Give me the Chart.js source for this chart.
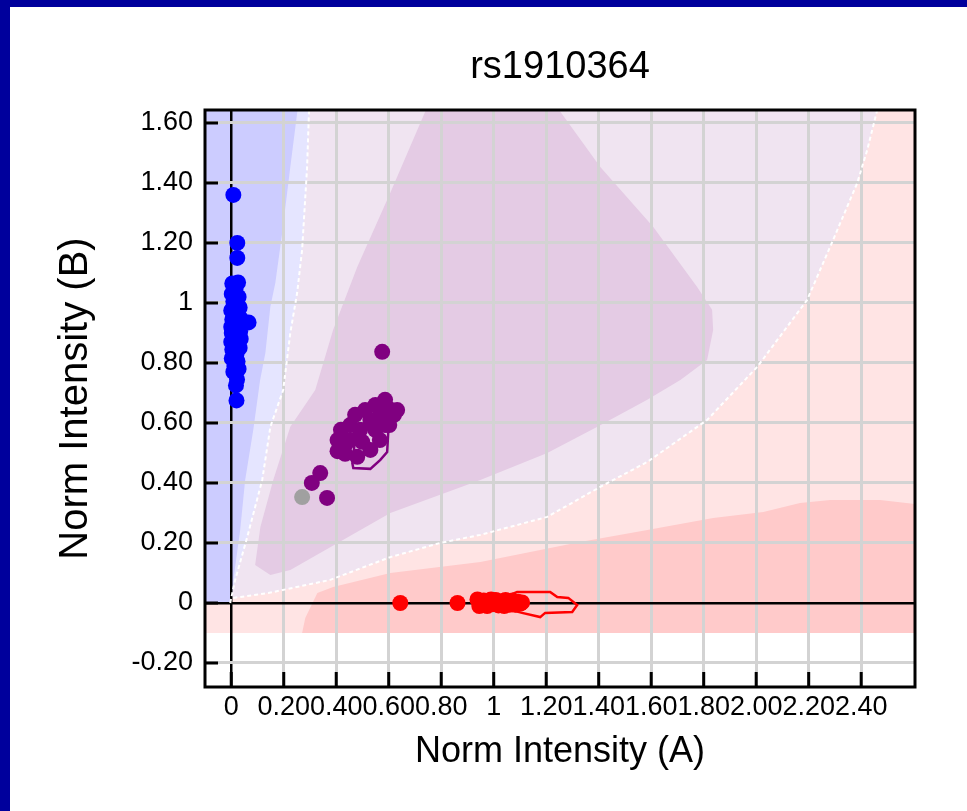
<!DOCTYPE html>
<html>
<head>
<meta charset="utf-8">
<script src="https://cdn.jsdelivr.net/npm/chart.js@4.4.1/dist/chart.umd.min.js"></script>
<style>
  html, body { margin: 0; padding: 0; background: #fff; }
  #wrap { position: relative; width: 967px; height: 811px; }
  #edgeTop { position: absolute; left: 0; top: 0; width: 967px; height: 7px; background: #00009c; }
  #edgeLeft { position: absolute; left: 0; top: 0; width: 10px; height: 811px; background: #00009c; }
</style>
</head>
<body>
<div id="wrap">
  <canvas id="plot" width="967" height="811"></canvas>
  <div id="edgeTop"></div>
  <div id="edgeLeft"></div>
</div>
<script>
const xTicks = [0, 0.2, 0.4, 0.6, 0.8, 1, 1.2, 1.4, 1.6, 1.8, 2.0, 2.2, 2.4];
const xTickLabels = ["0", "0.20", "0.40", "0.60", "0.80", "1", "1.20", "1.40", "1.60", "1.80", "2.00", "2.20", "2.40"];
const yTicks = [-0.2, 0, 0.2, 0.4, 0.6, 0.8, 1, 1.2, 1.4, 1.6];
const yTickLabels = ["-0.20", "0", "0.20", "0.40", "0.60", "0.80", "1", "1.20", "1.40", "1.60"];

// genotype calls [A, B]
const bbCalls = [
  [0.008, 1.36], [0.023, 1.20], [0.023, 1.15], [0.020, 0.675], [0.066, 0.935],
  [0.004, 1.065], [0.026, 1.068], [0.016, 1.045], [0.002, 1.03], [0.028, 1.02],
  [0.008, 1.005], [0.022, 0.995], [0.032, 0.985], [0.0, 0.975], [0.015, 0.965],
  [0.03, 0.955], [0.004, 0.945], [0.02, 0.94], [0.038, 0.945], [0.0, 0.92],
  [0.024, 0.915], [0.034, 0.905], [0.002, 0.9], [0.014, 0.89], [0.028, 0.875],
  [0.0, 0.87], [0.016, 0.86], [0.032, 0.85], [0.004, 0.845], [0.02, 0.83],
  [0.002, 0.815], [0.024, 0.805], [0.012, 0.79], [0.028, 0.78], [0.016, 0.765],
  [0.022, 0.745], [0.008, 0.77], [0.018, 0.725], [0.036, 0.88]
];
const abCalls = [
  [0.586, 0.677], [0.632, 0.643], [0.549, 0.66], [0.51, 0.643], [0.472, 0.627],
  [0.453, 0.593], [0.418, 0.577], [0.405, 0.543], [0.405, 0.506], [0.434, 0.497],
  [0.48, 0.487], [0.53, 0.51], [0.566, 0.543], [0.602, 0.593], [0.62, 0.627],
  [0.491, 0.577], [0.53, 0.61], [0.568, 0.627], [0.453, 0.543], [0.499, 0.537],
  [0.549, 0.577], [0.586, 0.593], [0.434, 0.527], [0.596, 0.65],
  [0.575, 0.837], [0.339, 0.433], [0.307, 0.40], [0.365, 0.35]
];
const aaCalls = [
  [0.644, 0.0], [0.862, 0.0], [0.938, 0.012], [0.95, -0.005], [0.962, 0.008],
  [0.975, -0.01], [0.985, 0.008], [0.997, -0.004], [1.008, 0.01], [1.018, -0.008],
  [1.03, 0.006], [1.04, -0.01], [1.05, 0.006], [1.06, -0.006], [1.072, 0.008],
  [1.082, -0.006], [1.092, 0.004], [1.102, -0.002], [1.108, 0.002], [0.945, -0.01],
  [0.99, 0.012], [1.045, 0.01]
];
const noCalls = [[0.27, 0.353]];

// cluster density outlines
const abContour = [
  [0.461, 0.467], [0.465, 0.45], [0.53, 0.447], [0.568, 0.477], [0.594, 0.503],
  [0.598, 0.567], [0.586, 0.61], [0.53, 0.593], [0.472, 0.543], [0.461, 0.467]
];
const aaContour = [
  [1.063, 0.027], [1.089, 0.037], [1.215, 0.037], [1.242, 0.02], [1.284, 0.017],
  [1.318, -0.007], [1.299, -0.03], [1.196, -0.033], [1.177, -0.047], [1.108, -0.033],
  [1.063, -0.023], [1.063, 0.027]
];

// background zones
const aaZoneOuter = [[-0.15, -0.1], [2.7, -0.1], [2.7, 1.7], [-0.15, 1.7], [-0.15, -0.1]];
const abZoneOuter = [
  [-0.15, 0.01], [0.008, 0.017], [0.141, 0.033], [0.377, 0.077], [0.606, 0.153],
  [0.796, 0.2], [0.949, 0.227], [1.204, 0.287], [1.406, 0.387], [1.585, 0.47],
  [1.813, 0.61], [2.004, 0.787], [2.194, 1.01], [2.293, 1.21], [2.385, 1.4],
  [2.423, 1.51], [2.461, 1.643], [2.47, 1.7], [-0.15, 1.7], [-0.15, 0.01]
];
const aaZoneInner = [
  [0.27, -0.1], [0.282, -0.05], [0.328, 0.033], [0.388, 0.053], [0.606, 0.1],
  [0.949, 0.137], [1.329, 0.203], [1.585, 0.243], [1.836, 0.283], [2.027, 0.303],
  [2.167, 0.333], [2.282, 0.343], [2.472, 0.343], [2.7, 0.32], [2.7, -0.1], [0.27, -0.1]
];
const abZoneInner = [
  [0.75, 1.66], [1.235, 1.66], [1.406, 1.453], [1.608, 1.253], [1.775, 1.053],
  [1.832, 0.977], [1.836, 0.91], [1.813, 0.81], [1.711, 0.743], [1.585, 0.677],
  [1.395, 0.587], [1.204, 0.5], [0.949, 0.41], [0.606, 0.3], [0.225, 0.11],
  [0.149, 0.093], [0.091, 0.127], [0.111, 0.253], [0.16, 0.41], [0.225, 0.587],
  [0.32, 0.71], [0.388, 0.91], [0.48, 1.12], [0.606, 1.367], [0.75, 1.66]
];
const bbZoneOuter = [
  [-0.15, 0], [-0.004, 0], [0.015, 0.077], [0.061, 0.22], [0.118, 0.41],
  [0.149, 0.587], [0.198, 0.71], [0.225, 0.9], [0.251, 1.033], [0.27, 1.177],
  [0.289, 1.453], [0.297, 1.66], [-0.15, 1.66], [-0.15, 0]
];
const bbZoneInner = [
  [-0.15, 0], [-0.004, 0], [0.008, 0.077], [0.034, 0.243], [0.053, 0.41],
  [0.084, 0.577], [0.11, 0.743], [0.13, 0.833], [0.149, 0.987], [0.168, 1.067],
  [0.194, 1.233], [0.225, 1.453], [0.255, 1.66], [-0.15, 1.66], [-0.15, 0]
];
const bbBoundary = bbZoneOuter.slice(1, 12);
const aaBoundary = abZoneOuter.slice(1, 18);

const FONT = "'Liberation Sans', Arial, sans-serif";
const toXY = (pairs) => pairs.map(([x, y]) => ({ x, y }));
const isZero = (v) => Math.abs(v) < 1e-9;
const labelFor = (values, labels, v) => {
  const i = values.findIndex((t) => Math.abs(t - v) < 1e-9);
  return i < 0 ? "" : labels[i];
};

const zone = (data, color, order) => ({
  data: toXY(data),
  backgroundColor: color,
  borderColor: "rgba(0,0,0,0)",
  borderWidth: 0,
  pointRadius: 0,
  fill: "shape",
  showLine: true,
  tension: 0,
  order
});

const dashed = (data) => ({
  data: toXY(data),
  borderColor: "#ffffff",
  borderWidth: 2,
  borderDash: [4, 3],
  pointRadius: 0,
  fill: false,
  showLine: true,
  tension: 0,
  order: 10
});

const outline = (data, color) => ({
  data: toXY(data),
  borderColor: color,
  borderWidth: 2.5,
  pointRadius: 0,
  fill: false,
  showLine: true,
  tension: 0,
  order: 5
});

const calls = (data, color, order) => ({
  data: toXY(data),
  backgroundColor: color,
  borderWidth: 0,
  pointRadius: 8,
  pointHoverRadius: 8,
  showLine: false,
  fill: false,
  order
});

const frameAndTicks = {
  id: "frameAndTicks",
  afterDraw(chart) {
    const { ctx, chartArea: a, scales: { x, y } } = chart;
    ctx.save();
    ctx.strokeStyle = "#000";
    ctx.lineWidth = 3;
    ctx.beginPath();
    x.ticks.forEach((t) => {
      const px = x.getPixelForValue(t.value);
      ctx.moveTo(px, a.bottom);
      ctx.lineTo(px, a.bottom - 15);
    });
    y.ticks.forEach((t) => {
      const py = y.getPixelForValue(t.value);
      ctx.moveTo(a.left, py);
      ctx.lineTo(a.left + 13, py);
    });
    ctx.stroke();
    ctx.strokeRect(a.left, a.top, a.right - a.left, a.bottom - a.top);
    ctx.restore();
  }
};

new Chart(document.getElementById("plot"), {
  type: "line",
  data: {
    datasets: [
      calls(noCalls, "#a0a0a0", 1),
      calls(bbCalls, "#0000ff", 2),
      calls(abCalls, "#800080", 3),
      calls(aaCalls, "#ff0000", 4),
      outline(abContour, "#800080"),
      outline(aaContour, "#ff0000"),
      dashed(bbBoundary),
      dashed(aaBoundary),
      zone(bbZoneInner, "#ccccff", 25),
      zone(bbZoneOuter, "#e5e5ff", 26),
      zone(abZoneInner, "#e4cbe4", 27),
      zone(aaZoneInner, "#ffcaca", 28),
      zone(abZoneOuter, "#f0e4f1", 29),
      zone(aaZoneOuter, "#ffe4e4", 30)
    ]
  },
  options: {
    responsive: false,
    animation: false,
    devicePixelRatio: 1,
    layout: { padding: { left: 0, right: 52, top: 0, bottom: 0 } },
    plugins: {
      legend: { display: false },
      tooltip: { enabled: false },
      filler: { drawTime: "beforeDraw" },
      title: {
        display: true,
        text: "rs1910364",
        fullSize: false,
        color: "#000",
        font: { family: FONT, size: 38, weight: "normal" },
        padding: { top: 45, bottom: 19.4 }
      }
    },
    scales: {
      x: {
        type: "linear",
        min: -0.1,
        max: 2.605,
        afterBuildTicks: (scale) => {
          scale.ticks = xTicks.map((value) => ({ value }));
        },
        afterFit: (scale) => {
          scale.height = 124;
        },
        border: { display: false },
        grid: {
          drawTicks: false,
          color: (c) => (c.tick && isZero(c.tick.value) ? "#000" : "#d3d3d3"),
          lineWidth: (c) => (c.tick && isZero(c.tick.value) ? 2.5 : 3)
        },
        ticks: {
          autoSkip: false,
          maxRotation: 0,
          padding: 4,
          color: "#000",
          font: { family: FONT, size: 27 },
          callback: (v) => labelFor(xTicks, xTickLabels, v)
        },
        title: {
          display: true,
          text: "Norm Intensity (A)",
          color: "#000",
          font: { family: FONT, size: 36 },
          padding: { top: 0, bottom: 37 }
        }
      },
      y: {
        type: "linear",
        min: -0.28,
        max: 1.643,
        afterBuildTicks: (scale) => {
          scale.ticks = yTicks.map((value) => ({ value }));
        },
        afterFit: (scale) => {
          scale.width = 205;
        },
        border: { display: false },
        grid: {
          drawTicks: false,
          color: (c) => (c.tick && isZero(c.tick.value) ? "#000" : "#d3d3d3"),
          lineWidth: (c) => (c.tick && isZero(c.tick.value) ? 2.5 : 3)
        },
        ticks: {
          autoSkip: false,
          padding: 12,
          color: "#000",
          font: { family: FONT, size: 27 },
          callback: (v) => labelFor(yTicks, yTickLabels, v)
        },
        title: {
          display: true,
          text: "Norm Intensity (B)",
          color: "#000",
          font: { family: FONT, size: 40 },
          padding: { top: 52, bottom: 0 }
        }
      }
    }
  },
  plugins: [frameAndTicks]
});
</script>
</body>
</html>
